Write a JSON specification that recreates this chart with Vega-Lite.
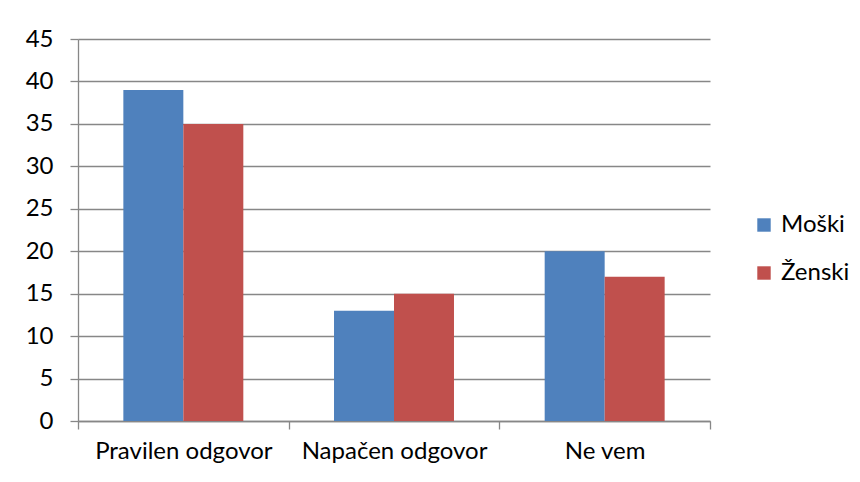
{
  "$schema": "https://vega.github.io/schema/vega-lite/v6.json",
  "width": 632,
  "height": 382,
  "autosize": {"type": "none"},
  "padding": {"left": 78, "top": 39, "right": 150, "bottom": 61},
  "background": "white",
  "config": {
    "view": {"stroke": null},
    "font": "Lato",
    "axis": {"labelFont": "Lato", "labelFontSize": 24, "labelColor": "#000000", "labelLimit": 0}
  },
  "data": {
    "values": [
      {"kategorija": "Pravilen odgovor", "spol": "Moški", "vrednost": 39},
      {"kategorija": "Pravilen odgovor", "spol": "Ženski", "vrednost": 35},
      {"kategorija": "Napačen odgovor", "spol": "Moški", "vrednost": 13},
      {"kategorija": "Napačen odgovor", "spol": "Ženski", "vrednost": 15},
      {"kategorija": "Ne vem", "spol": "Moški", "vrednost": 20},
      {"kategorija": "Ne vem", "spol": "Ženski", "vrednost": 17}
    ]
  },
  "mark": {"type": "bar"},
  "encoding": {
    "x": {
      "field": "kategorija",
      "type": "nominal",
      "sort": ["Pravilen odgovor", "Napačen odgovor", "Ne vem"],
      "scale": {"paddingInner": 0, "paddingOuter": 0},
      "axis": {
        "title": null,
        "labelAngle": 0,
        "labelLimit": 0,
        "labelOverlap": false,
        "tickBand": "extent",
        "tickSize": 8,
        "tickColor": "#878787",
        "domainColor": "#878787",
        "tickWidth": 1.3,
        "domainWidth": 1.3,
        "labelPadding": 10,
        "grid": false
      }
    },
    "xOffset": {
      "field": "spol",
      "type": "nominal",
      "scale": {"paddingOuter": 0.756, "paddingInner": 0}
    },
    "y": {
      "field": "vrednost",
      "type": "quantitative",
      "scale": {"domain": [0, 45]},
      "axis": {
        "title": null,
        "values": [0, 5, 10, 15, 20, 25, 30, 35, 40, 45],
        "tickSize": 8,
        "tickColor": "#878787",
        "domainColor": "#878787",
        "gridColor": "#878787",
        "tickWidth": 1.3,
        "domainWidth": 1.3,
        "gridWidth": 1.3,
        "labelPadding": 17,
        "grid": true
      }
    },
    "color": {
      "field": "spol",
      "type": "nominal",
      "scale": {"domain": ["Moški", "Ženski"], "range": ["#4F81BD", "#C0504D"]},
      "legend": {
        "title": null,
        "orient": "none",
        "legendX": 674,
        "legendY": 174,
        "symbolType": "square",
        "symbolSize": 180,
        "symbolStrokeWidth": 0,
        "labelFontSize": 24,
        "labelFont": "Lato",
        "labelColor": "#000000",
        "labelOffset": 5,
        "rowPadding": 24
      }
    }
  }
}
